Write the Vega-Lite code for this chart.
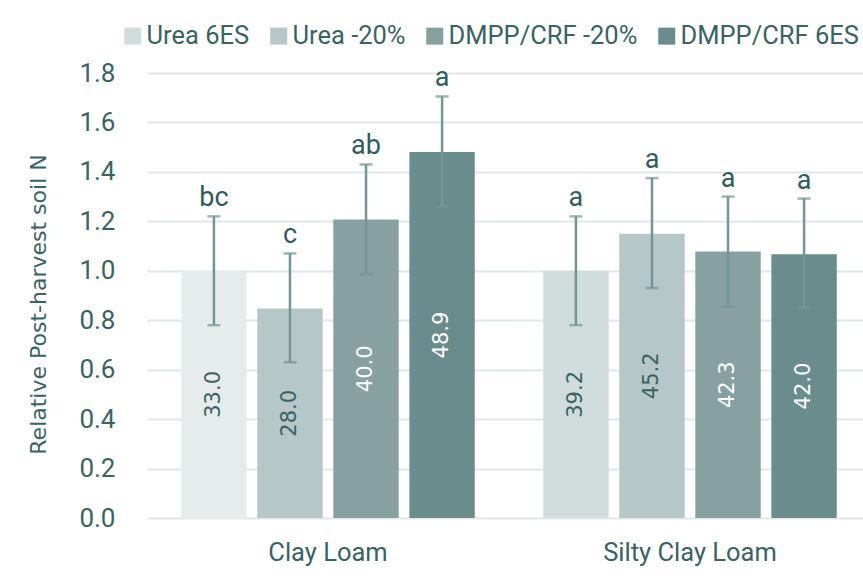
{
  "$schema": "https://vega.github.io/schema/vega-lite/v6.json",
  "autosize": "none",
  "padding": {"left": 147, "top": 73, "right": 0, "bottom": 61},
  "width": 716,
  "height": 445,
  "background": "#FFFFFF",
  "config": {"view": {"stroke": null}},
  "data": {"values": [
    {"soil": "Clay Loam", "treatment": "Urea 6ES", "value": 1.0, "lo": 0.78, "hi": 1.22, "letter": "bc", "n": "33.0"},
    {"soil": "Clay Loam", "treatment": "Urea -20%", "value": 0.847, "lo": 0.63, "hi": 1.07, "letter": "c", "n": "28.0"},
    {"soil": "Clay Loam", "treatment": "DMPP/CRF -20%", "value": 1.207, "lo": 0.987, "hi": 1.43, "letter": "ab", "n": "40.0"},
    {"soil": "Clay Loam", "treatment": "DMPP/CRF 6ES", "value": 1.48, "lo": 1.26, "hi": 1.705, "letter": "a", "n": "48.9"},
    {"soil": "Silty Clay Loam", "treatment": "Urea 6ES", "value": 1.0, "lo": 0.78, "hi": 1.22, "letter": "a", "n": "39.2"},
    {"soil": "Silty Clay Loam", "treatment": "Urea -20%", "value": 1.15, "lo": 0.93, "hi": 1.375, "letter": "a", "n": "45.2"},
    {"soil": "Silty Clay Loam", "treatment": "DMPP/CRF -20%", "value": 1.078, "lo": 0.855, "hi": 1.3, "letter": "a", "n": "42.3"},
    {"soil": "Silty Clay Loam", "treatment": "DMPP/CRF 6ES", "value": 1.067, "lo": 0.85, "hi": 1.292, "letter": "a", "n": "42.0"}
  ]},
  "encoding": {
    "x": {"field": "soil", "type": "nominal", "sort": ["Clay Loam", "Silty Clay Loam"],
      "scale": {"range": [0, 724], "paddingInner": 0, "paddingOuter": 0},
      "axis": {"title": null, "domain": false, "ticks": false, "labelAngle": 0, "labelPadding": 22, "labelLimit": 400,
        "labelFont": "Roboto", "labelFontSize": 25.5, "labelColor": "#3A6363"}},
    "xOffset": {"field": "treatment", "type": "nominal",
      "sort": ["Urea 6ES", "Urea -20%", "DMPP/CRF -20%", "DMPP/CRF 6ES"],
      "scale": {"paddingInner": 0.14, "paddingOuter": 0.45}}
  },
  "resolve": {"scale": {"y": "independent"}},
  "layer": [
    {
      "mark": {"type": "bar"},
      "encoding": {
        "y": {"field": "value", "type": "quantitative", "scale": {"domain": [0, 1.8], "nice": false},
          "axis": {"title": "Relative Post-harvest soil N", "values": [0, 0.2, 0.4, 0.6, 0.8, 1.0, 1.2, 1.4, 1.6, 1.8],
            "format": ".1f", "domain": false, "ticks": false, "labelPadding": 32,
            "labelFont": "Roboto", "labelFontSize": 26, "labelColor": "#3A6363",
            "grid": true, "gridColor": "#E2E8E8", "gridWidth": 2,
            "titleFont": "DejaVu Sans", "titleFontSize": 22, "titleFontWeight": "normal", "titleColor": "#3A6363",
            "titlePadding": 28, "titleY": 231}},
        "color": {
          "condition": {"test": "datum.soil === 'Clay Loam' && datum.treatment === 'Urea 6ES'", "value": "#E6ECEC"},
          "field": "treatment", "type": "nominal",
          "sort": ["Urea 6ES", "Urea -20%", "DMPP/CRF -20%", "DMPP/CRF 6ES"],
          "scale": {"domain": ["Urea 6ES", "Urea -20%", "DMPP/CRF -20%", "DMPP/CRF 6ES"],
            "range": ["#D1DCDC", "#B5C7C7", "#87A1A1", "#6B8C8C"]},
          "legend": {"title": null, "orient": "none", "direction": "horizontal", "legendX": -27, "legendY": -50,
            "symbolType": "square", "symbolSize": 289, "symbolStrokeWidth": 0, "labelOffset": 1,
            "columnPadding": 16, "padding": 0,
            "labelFont": "Roboto", "labelFontSize": 25.5, "labelColor": "#3A6363",
            "labelLimit": 400}
        }
      }
    },
    {
      "mark": {"type": "rule", "color": "#749595", "strokeWidth": 2.5},
      "encoding": {
        "y": {"field": "lo", "type": "quantitative", "scale": {"domain": [0, 1.8], "nice": false}, "axis": null},
        "y2": {"field": "hi"}
      }
    },
    {
      "mark": {"type": "tick", "color": "#749595", "size": 13, "thickness": 2.5},
      "encoding": {
        "y": {"field": "lo", "type": "quantitative", "scale": {"domain": [0, 1.8], "nice": false}, "axis": null}
      }
    },
    {
      "mark": {"type": "tick", "color": "#749595", "size": 13, "thickness": 2.5},
      "encoding": {
        "y": {"field": "hi", "type": "quantitative", "scale": {"domain": [0, 1.8], "nice": false}, "axis": null}
      }
    },
    {
      "mark": {"type": "text", "font": "Roboto", "fontSize": 27, "color": "#2F5C5C",
        "baseline": "alphabetic", "dy": -10},
      "encoding": {
        "y": {"field": "hi", "type": "quantitative", "scale": {"domain": [0, 1.8], "nice": false}, "axis": null},
        "text": {"field": "letter"}
      }
    },
    {
      "mark": {"type": "text", "font": "DejaVu Sans", "fontSize": 21, "angle": 270, "baseline": "middle", "align": "center"},
      "encoding": {
        "y": {"field": "value", "type": "quantitative", "scale": {"domain": [0, 3.6], "nice": false}, "axis": null},
        "text": {"field": "n"},
        "color": {"condition": {"test": "test(/^Urea/, datum.treatment)", "value": "#3A6363"}, "value": "#FFFFFF"}
      }
    }
  ]
}
